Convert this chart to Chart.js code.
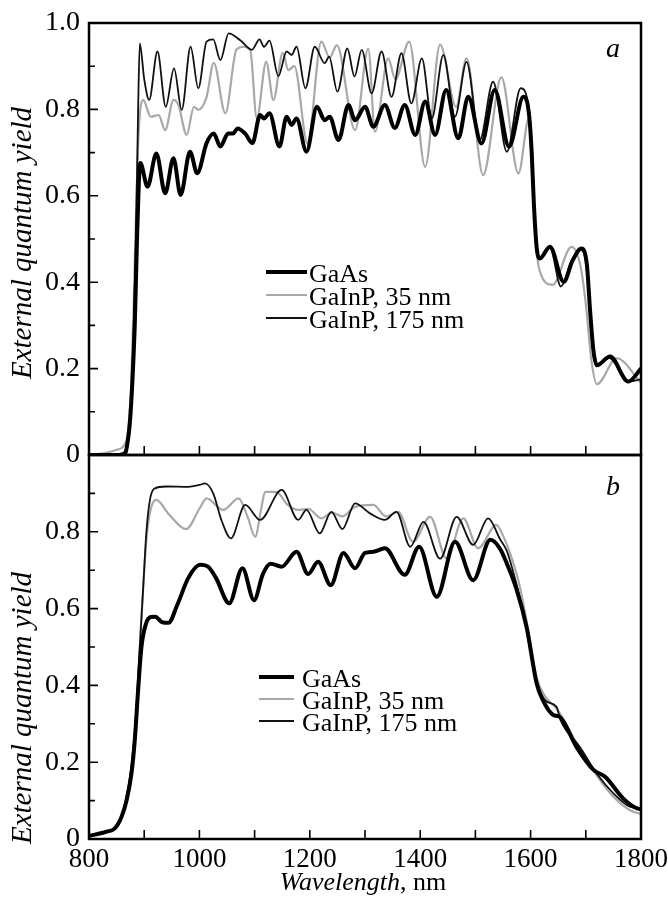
<!DOCTYPE html>
<html>
<head>
<meta charset="utf-8">
<script src="https://cdn.jsdelivr.net/npm/chart.js@4/dist/chart.umd.min.js"></script>
<style>
  html, body { margin: 0; padding: 0; background: #fff; }
  #wrap { position: relative; width: 668px; height: 907px; }
  canvas { position: absolute; left: 0; }
  #chartA { top: 0; }
  #chartB { top: 445px; }
</style>
</head>
<body>
<div id="wrap">
  <canvas id="chartA" width="668" height="480"></canvas>
  <canvas id="chartB" width="668" height="462"></canvas>
</div>
<script>
// series names
const seriesNames = ['GaAs', 'GaInP, 35 nm', 'GaInP, 175 nm'];

// panel a, GaAs
const aGaAsX = [800, 860, 866, 870, 874, 879, 883, 887, 890, 893, 906, 922, 938, 953, 966, 983, 996, 1013, 1026, 1038, 1052, 1061, 1069, 1083, 1096, 1110, 1117, 1127, 1145, 1158, 1167, 1176, 1194, 1213, 1227, 1236, 1252, 1270, 1282, 1300, 1315, 1336, 1354, 1372, 1391, 1409, 1427, 1447, 1469, 1487, 1511, 1535, 1561, 1587, 1597, 1602, 1606, 1611, 1617, 1635, 1660, 1676, 1692, 1702, 1708, 1714, 1720, 1744, 1777, 1800];
const aGaAsY = [0, 0, 0.005, 0.03, 0.074, 0.18, 0.305, 0.5, 0.62, 0.676, 0.621, 0.698, 0.606, 0.687, 0.602, 0.702, 0.652, 0.722, 0.744, 0.714, 0.744, 0.744, 0.756, 0.744, 0.722, 0.787, 0.779, 0.791, 0.714, 0.783, 0.764, 0.779, 0.702, 0.806, 0.775, 0.783, 0.729, 0.81, 0.775, 0.806, 0.76, 0.81, 0.757, 0.81, 0.741, 0.818, 0.741, 0.845, 0.733, 0.829, 0.721, 0.845, 0.714, 0.829, 0.79, 0.7, 0.58, 0.48, 0.455, 0.482, 0.401, 0.45, 0.478, 0.44, 0.33, 0.24, 0.208, 0.228, 0.17, 0.2];

// panel a, GaInP 35 nm
const a35X = [800, 830, 850, 862, 870, 876, 881, 885, 889, 893, 898, 912, 926, 938, 953, 962, 977, 990, 998, 1013, 1026, 1047, 1067, 1080, 1092, 1104, 1121, 1134, 1151, 1161, 1172, 1196, 1221, 1236, 1249, 1282, 1306, 1318, 1342, 1355, 1380, 1409, 1436, 1465, 1484, 1514, 1547, 1578, 1597, 1603, 1609, 1617, 1640, 1674, 1690, 1700, 1710, 1720, 1756, 1800];
const a35Y = [0, 0.005, 0.012, 0.02, 0.05, 0.15, 0.35, 0.55, 0.72, 0.8, 0.822, 0.783, 0.787, 0.752, 0.822, 0.81, 0.741, 0.806, 0.799, 0.829, 0.908, 0.791, 0.938, 0.945, 0.938, 0.779, 0.91, 0.822, 0.931, 0.891, 0.9, 0.721, 0.957, 0.92, 0.949, 0.752, 0.941, 0.748, 0.918, 0.87, 0.957, 0.667, 0.95, 0.806, 0.918, 0.648, 0.874, 0.652, 0.78, 0.65, 0.5, 0.424, 0.394, 0.482, 0.44, 0.35, 0.22, 0.164, 0.224, 0.167];

// panel a, GaInP 175 nm
const a175X = [800, 850, 862, 870, 876, 880, 884, 887, 889, 892, 900, 909, 924, 939, 954, 968, 984, 998, 1013, 1025, 1038, 1053, 1074, 1095, 1109, 1117, 1127, 1143, 1158, 1167, 1176, 1192, 1209, 1227, 1235, 1250, 1268, 1281, 1294, 1312, 1330, 1348, 1366, 1384, 1403, 1421, 1442, 1463, 1484, 1508, 1532, 1557, 1582, 1597, 1603, 1607, 1612, 1617, 1635, 1655, 1674, 1690, 1700, 1707, 1713, 1720, 1742, 1752, 1775, 1800];
const a175Y = [0, 0.002, 0.005, 0.03, 0.12, 0.25, 0.45, 0.65, 0.8, 0.953, 0.87, 0.822, 0.934, 0.806, 0.895, 0.799, 0.945, 0.849, 0.957, 0.962, 0.914, 0.976, 0.96, 0.938, 0.962, 0.945, 0.959, 0.877, 0.934, 0.926, 0.945, 0.849, 0.945, 0.907, 0.922, 0.841, 0.941, 0.876, 0.938, 0.837, 0.934, 0.829, 0.93, 0.814, 0.918, 0.779, 0.926, 0.783, 0.91, 0.729, 0.864, 0.702, 0.849, 0.8, 0.7, 0.55, 0.47, 0.455, 0.48, 0.39, 0.45, 0.475, 0.45, 0.35, 0.24, 0.205, 0.225, 0.215, 0.17, 0.175];

// panel b, GaAs
const bGaAsX = [800, 832, 847, 859, 868, 877, 883, 889, 895, 903, 912, 920, 932, 944, 960, 980, 1001, 1015, 1030, 1054, 1078, 1099, 1115, 1129, 1149, 1176, 1197, 1215, 1238, 1261, 1282, 1300, 1315, 1336, 1372, 1398, 1430, 1463, 1496, 1527, 1545, 1557, 1575, 1593, 1611, 1622, 1641, 1653, 1683, 1714, 1735, 1768, 1792, 1800];
const bGaAsY = [0.008, 0.019, 0.028, 0.058, 0.1, 0.171, 0.258, 0.388, 0.5, 0.56, 0.578, 0.579, 0.565, 0.563, 0.61, 0.68, 0.714, 0.71, 0.68, 0.614, 0.705, 0.622, 0.69, 0.717, 0.709, 0.748, 0.69, 0.722, 0.661, 0.745, 0.705, 0.745, 0.748, 0.757, 0.688, 0.761, 0.631, 0.774, 0.674, 0.779, 0.755, 0.717, 0.648, 0.55, 0.405, 0.362, 0.323, 0.318, 0.24, 0.18, 0.162, 0.105, 0.08, 0.078];

// panel b, GaInP 35 nm
const b35X = [800, 832, 847, 859, 868, 877, 885, 892, 898, 904, 912, 922, 945, 976, 1000, 1013, 1043, 1071, 1087, 1101, 1112, 1119, 1139, 1160, 1179, 1197, 1221, 1240, 1259, 1282, 1315, 1338, 1360, 1387, 1418, 1448, 1478, 1505, 1538, 1550, 1565, 1580, 1595, 1611, 1627, 1647, 1660, 1689, 1720, 1750, 1780, 1800];
const b35Y = [0.008, 0.019, 0.03, 0.06, 0.11, 0.19, 0.32, 0.5, 0.65, 0.78, 0.86, 0.883, 0.845, 0.807, 0.86, 0.887, 0.857, 0.887, 0.84, 0.787, 0.86, 0.904, 0.904, 0.87, 0.857, 0.86, 0.835, 0.85, 0.84, 0.865, 0.87, 0.84, 0.852, 0.774, 0.839, 0.73, 0.835, 0.757, 0.818, 0.79, 0.735, 0.66, 0.55, 0.42, 0.37, 0.34, 0.31, 0.235, 0.165, 0.11, 0.075, 0.065];

// panel b, GaInP 175 nm
const b175X = [800, 832, 847, 859, 868, 877, 885, 892, 898, 904, 910, 918, 940, 980, 1000, 1010, 1025, 1040, 1057, 1083, 1110, 1149, 1179, 1194, 1218, 1239, 1259, 1282, 1309, 1336, 1357, 1382, 1406, 1436, 1466, 1496, 1523, 1545, 1557, 1575, 1593, 1611, 1627, 1647, 1654, 1689, 1720, 1750, 1780, 1800];
const b175Y = [0.008, 0.019, 0.03, 0.06, 0.11, 0.19, 0.32, 0.5, 0.65, 0.8, 0.88, 0.912, 0.918, 0.917, 0.922, 0.926, 0.9, 0.83, 0.783, 0.87, 0.831, 0.909, 0.831, 0.857, 0.796, 0.852, 0.807, 0.874, 0.848, 0.831, 0.852, 0.761, 0.826, 0.73, 0.839, 0.766, 0.835, 0.78, 0.75, 0.66, 0.553, 0.41, 0.36, 0.344, 0.31, 0.24, 0.17, 0.119, 0.084, 0.08];

// axis ticks
const xLabelTicks = [800, 1000, 1200, 1400, 1600, 1800];
const xTickMarks = [900, 1000, 1100, 1200, 1300, 1400, 1500, 1600, 1700];
const yTickMarks = [0.1, 0.2, 0.3, 0.4, 0.5, 0.6, 0.7, 0.8, 0.9];

const serif = "'Liberation Serif', 'Times New Roman', serif";
Chart.defaults.font.family = serif;
Chart.defaults.color = '#000';

const toPoints = (xs, ys) => xs.map((x, i) => ({ x: x, y: ys[i] }));

function makeDatasets(gx, gy, x35, y35, x175, y175) {
  return [
    { label: seriesNames[0], data: toPoints(gx, gy), borderColor: '#000', borderWidth: 4, order: 0 },
    { label: seriesNames[1], data: toPoints(x35, y35), borderColor: '#a8a8a8', borderWidth: 2.2, order: 2 },
    { label: seriesNames[2], data: toPoints(x175, y175), borderColor: '#111', borderWidth: 1.8, order: 1 },
  ].map(d => Object.assign(d, {
    pointRadius: 0,
    fill: false,
    cubicInterpolationMode: 'monotone',
    borderJoinStyle: 'round',
    borderCapStyle: 'round',
  }));
}

// frame, inward ticks, legend and texts
const paperPlugin = {
  id: 'paper',
  afterDatasetsDraw(chart, args, opts) {
    const { ctx, chartArea: a } = chart;
    const x = chart.scales.x, y = chart.scales.y;
    ctx.save();
    ctx.strokeStyle = '#000';
    ctx.lineWidth = 1.6;
    ctx.beginPath();
    xTickMarks.forEach(v => {
      const px = x.getPixelForValue(v);
      ctx.moveTo(px, a.bottom);
      ctx.lineTo(px, a.bottom - 9);
    });
    yTickMarks.forEach(v => {
      const py = y.getPixelForValue(v);
      const len = Math.round(v * 10) % 2 === 0 ? 9 : 6;
      ctx.moveTo(a.left, py);
      ctx.lineTo(a.left + len, py);
    });
    ctx.stroke();
    ctx.lineWidth = 2.5;
    ctx.strokeRect(a.left, a.top, a.right - a.left, a.bottom - a.top);

    // legend
    const lg = opts.legend;
    ctx.font = '26px ' + serif;
    ctx.textAlign = 'left';
    ctx.textBaseline = 'alphabetic';
    chart.data.datasets.forEach((ds, i) => {
      const ly = lg.y + i * lg.row;
      ctx.strokeStyle = ds.borderColor;
      ctx.lineWidth = ds.borderWidth;
      ctx.lineCap = 'butt';
      ctx.beginPath();
      ctx.moveTo(lg.x, ly);
      ctx.lineTo(lg.x + lg.len, ly);
      ctx.stroke();
      ctx.fillStyle = '#000';
      ctx.fillText(ds.label, lg.textX, ly + 10);
    });

    // panel letter
    ctx.font = 'italic 28px ' + serif;
    ctx.textAlign = 'center';
    ctx.fillText(opts.letter, 613, opts.letterY);

    // y title
    ctx.save();
    ctx.translate(23, opts.titleY);
    ctx.rotate(-Math.PI / 2);
    ctx.font = 'italic 29px ' + serif;
    ctx.textAlign = 'center';
    ctx.textBaseline = 'middle';
    ctx.fillText('External quantum yield', 0, 0);
    ctx.restore();

    // x title
    if (opts.xTitleY) {
      ctx.font = 'italic 26px ' + serif;
      const w1 = ctx.measureText('Wavelength').width;
      ctx.font = '26px ' + serif;
      const w2 = ctx.measureText(', nm').width;
      const sx = 363 - (w1 + w2) / 2;
      ctx.textAlign = 'left';
      ctx.textBaseline = 'alphabetic';
      ctx.font = 'italic 26px ' + serif;
      ctx.fillText('Wavelength', sx, opts.xTitleY);
      ctx.font = '26px ' + serif;
      ctx.fillText(', nm', sx + w1, opts.xTitleY);
    }
    ctx.restore();
  }
};

function noPad(s) {
  s.paddingTop = 0;
  s.paddingBottom = 0;
  s.paddingLeft = 0;
  s.paddingRight = 0;
}

function makeOptions(showX, hideTop, paper, padTop, padBottom) {
  return {
    responsive: false,
    animation: false,
    layout: { padding: { top: padTop, right: 27, bottom: padBottom, left: 0 } },
    plugins: { legend: { display: false }, tooltip: { enabled: false }, paper: paper },
    scales: {
      x: {
        type: 'linear',
        min: 800,
        max: 1800,
        display: showX,
        grid: { display: false, drawTicks: false },
        border: { display: false },
        afterBuildTicks: s => { s.ticks = xLabelTicks.map(v => ({ value: v })); },
        ticks: { font: { size: 27 }, padding: 5, maxRotation: 0, autoSkip: false, callback: v => String(v) },
        afterFit: s => { noPad(s); s.height = showX ? 68 : 0; },
      },
      y: {
        min: 0,
        max: 1,
        grid: { display: false, drawTicks: false },
        border: { display: false },
        ticks: {
          stepSize: 0.2,
          font: { size: 28 },
          padding: 9,
          callback: v => (v === 0 ? '0' : (hideTop && v > 0.99 ? '' : v.toFixed(1))),
        },
        afterFit: s => { noPad(s); s.width = 89; },
      },
    },
  };
}

new Chart(document.getElementById('chartA'), {
  type: 'line',
  data: { datasets: makeDatasets(aGaAsX, aGaAsY, a35X, a35Y, a175X, a175Y) },
  options: makeOptions(false, false, {
    legend: { x: 266, len: 41, textX: 309, y: 272, row: 23 },
    letter: 'a', letterY: 57, titleY: 243,
  }, 23, 25),
  plugins: [paperPlugin],
});

new Chart(document.getElementById('chartB'), {
  type: 'line',
  data: { datasets: makeDatasets(bGaAsX, bGaAsY, b35X, b35Y, b175X, b175Y) },
  options: makeOptions(true, true, {
    legend: { x: 259, len: 35, textX: 302, y: 232, row: 22 },
    letter: 'b', letterY: 50, titleY: 263, xTitleY: 445,
  }, 10, 0),
  plugins: [paperPlugin],
});
</script>
</body>
</html>
